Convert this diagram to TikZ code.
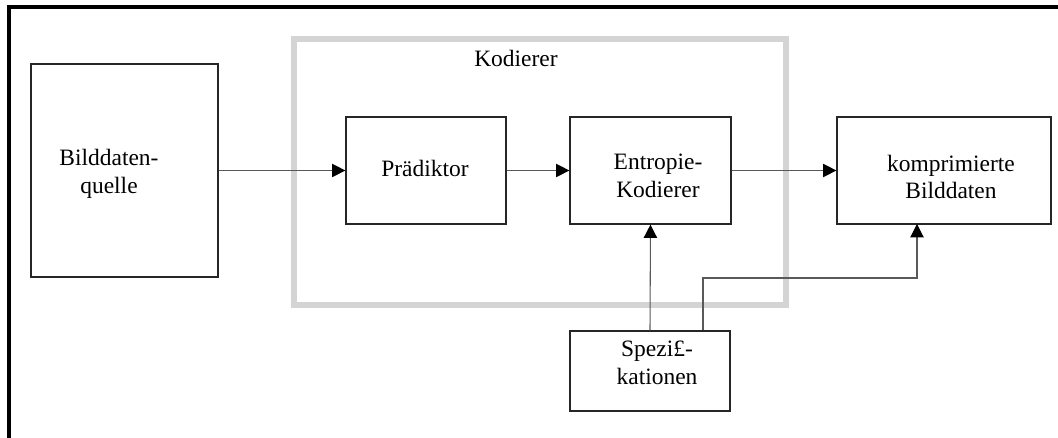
\documentclass[tikz,border=0pt]{standalone}
\usepackage{fontspec}
\setmainfont{Liberation Serif}
\usetikzlibrary{arrows.meta}
\begin{document}
\begin{tikzpicture}[x=0.75pt,y=-0.75pt,
  box/.style={draw=black!85,line width=0.9pt,inner sep=0pt},
  txt/.style={align=center,inner sep=0pt,font=\fontsize{17.6}{20.5}\selectfont},
  conn/.style={draw=black!65,line width=0.8pt},
  arr/.style={conn,-{Triangle[length=10pt,width=10pt,color=black]}}]
\useasboundingbox (0,0) rectangle (1058,438);
% outer frame (top and left edges)
\draw[line width=2.4pt] (9,438) -- (9,7) -- (1058,7);
% encoder group frame
\draw[draw=black!17,line width=3.8pt] (294,39) rectangle (786,305);
\node[txt] (kodlabel) at (516,58) {Kodierer};
% blocks
\node[box,minimum width=140.25pt,minimum height=159.75pt] (quelle) at (124.5,170.5) {};
\node[txt] (quelletxt) at (109,174) {Bilddaten-\\quelle};
\node[box,minimum width=120pt,minimum height=80.25pt] (praed) at (426,170.5) {};
\node[txt] (praedtxt) at (425,168) {Prädiktor};
\node[box,minimum width=120.75pt,minimum height=80.25pt] (entropie) at (650.5,170.5) {};
\node[txt] (entropietxt) at (658,176) {Entropie-\\Kodierer};
\node[box,minimum width=160.5pt,minimum height=80.25pt] (komp) at (944,170.5) {};
\node[txt] (komptxt) at (951,177) {komprimierte\\Bilddaten};
\node[box,minimum width=120pt,minimum height=60pt] (spez) at (650,371) {};
\node[txt] (speztxt) at (657,363) {Spezi£-\\kationen};
% connectors
\draw[arr] (quelle.east) -- (praed.west);
\draw[arr] (praed.east) -- (entropie.west);
\draw[arr] (entropie.east) -- (komp.west);
\draw[arr] (spez.north) -- (entropie.south);
\coordinate (bend) at (703,278);
\draw[arr] (spez.north -| bend) -- (bend) -- (917,278) -- (917,224);
\end{tikzpicture}
\end{document}
